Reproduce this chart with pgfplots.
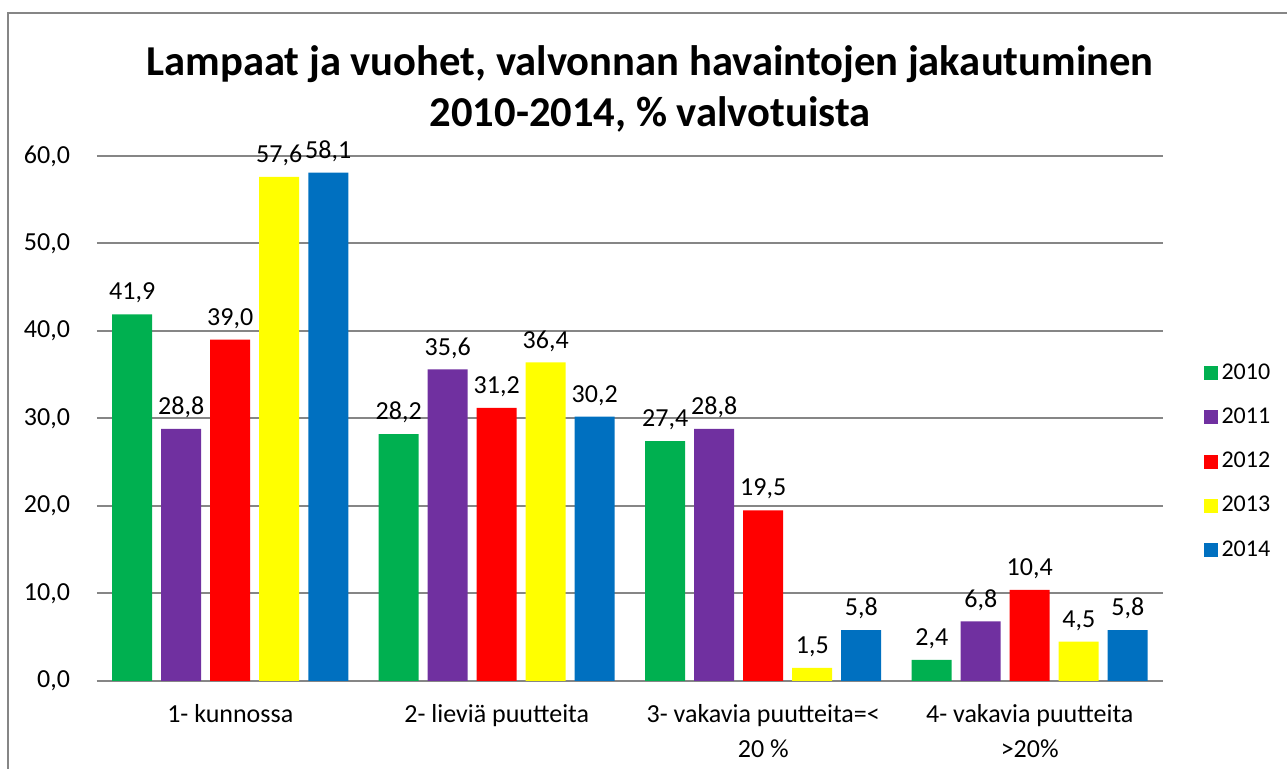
\documentclass[border=0pt]{standalone}
\usepackage{pgfplots}
\pgfplotsset{compat=1.18}
\usepackage{fontspec}
\setmainfont{Carlito}
\definecolor{c2010}{HTML}{00B050}
\definecolor{c2011}{HTML}{7030A0}
\definecolor{c2012}{HTML}{FF0000}
\definecolor{c2013}{HTML}{FFFF00}
\definecolor{c2014}{HTML}{0070C0}
\definecolor{gridgray}{HTML}{868686}
\begin{document}
\begin{tikzpicture}
\path[use as bounding box] (0pt,0pt) rectangle (643.5pt,384.5pt);
\draw[gridgray, line width=1pt] (4pt,0pt) -- (4pt,378pt) -- (643.5pt,378pt);
\node[align=center, font=\fontsize{21.3}{25.5}\selectfont\bfseries] at (325pt,340pt)
  {Lampaat ja vuohet, valvonnan havaintojen jakautuminen\\2010-2014, \% valvotuista};
\begin{axis}[
  at={(48.5pt,44pt)}, anchor=south west, scale only axis,
  width=533pt, height=262.5pt,
  ybar=4.5pt, bar width=20pt,
  xmin=-0.5, xmax=3.5, ymin=0, ymax=60,
  ytick={0,10,...,60},
  xtick={0,1,2,3},
  xticklabels={1- kunnossa, 2- lieviä puutteita, {3- vakavia puutteita=<\\20 \%}, {4- vakavia puutteita\\>20\%}},
  axis x line*=bottom, axis y line*=left,
  x axis line style={gridgray, line width=1pt, -},
  y axis line style={draw=none},
  ymajorgrids, grid style={gridgray, line width=1pt},
  major tick length=0pt,
  ytick style={draw=none}, xtick style={draw=none},
  tick label style={font=\fontsize{13}{17.5}\selectfont},
  xticklabel style={align=center, yshift=-8pt},
  yticklabel style={xshift=-10pt},
  yticklabel={\pgfmathprintnumber[fixed, fixed zerofill, precision=1, use comma, assume math mode=true]{\tick}},
  nodes near coords={\pgfmathprintnumber[fixed, fixed zerofill, precision=1, use comma, assume math mode=true]{\pgfplotspointmeta}},
  every node near coord/.append style={font=\fontsize{13}{14}\selectfont, black, yshift=2pt},
  legend style={at={(1.032,0.418)}, anchor=west, draw=none, fill=none,
    font=\fontsize{12}{14}\selectfont, row sep=8.8pt, legend cell align=left},
  legend image code/.code={\fill[#1] (0pt,-3.5pt) rectangle (7pt,3.5pt);},
]
\addplot[fill=c2010, draw=none] coordinates {(0,41.9) (1,28.2) (2,27.4) (3,2.4)};
\addplot[fill=c2011, draw=none] coordinates {(0,28.8) (1,35.6) (2,28.8) (3,6.8)};
\addplot[fill=c2012, draw=none] coordinates {(0,39.0) (1,31.2) (2,19.5) (3,10.4)};
\addplot[fill=c2013, draw=none] coordinates {(0,57.6) (1,36.4) (2,1.5) (3,4.5)};
\addplot[fill=c2014, draw=none] coordinates {(0,58.1) (1,30.2) (2,5.8) (3,5.8)};
\legend{2010,2011,2012,2013,2014}
\end{axis}
\end{tikzpicture}
\end{document}
